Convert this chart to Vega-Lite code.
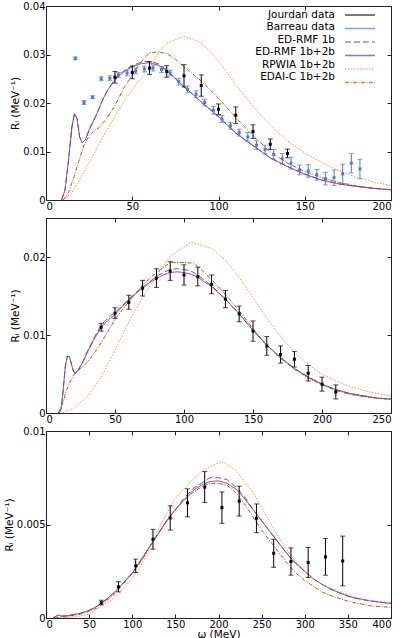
{
"$schema": "https://vega.github.io/schema/vega-lite/v6.json",
"autosize": {"type": "pad"},
"padding": {"left": 3, "top": 0, "right": 4, "bottom": 0},
"spacing": 18,
"bounds": "flush",
"config": {
  "font": "DejaVu Sans",
  "view": {"stroke": "#222", "strokeWidth": 1},
  "axis": {"domain": false, "grid": false, "tickColor": "#222", "tickSize": -4, "labelColor": "#000", "labelFontSize": 10, "labelFont": "DejaVu Sans", "titleFont": "DejaVu Sans", "titleFontSize": 10.5, "titleFontWeight": "normal", "titleColor": "#000"},
  "axisX": {"labelPadding": 5, "titlePadding": 0},
  "axisY": {"labelPadding": 5, "titlePadding": 2},
  "legend": {"labelFont": "DejaVu Sans", "labelFontSize": 10.5, "labelColor": "#000", "symbolSize": 100, "symbolStrokeWidth": 1.5, "rowPadding": 1.5, "padding": 0}
},
"datasets": {
"c1": [
{"s":"ED-RMF 1b","x":9,"y":0},{"s":"ED-RMF 1b","x":11,"y":0.002},{"s":"ED-RMF 1b","x":13,"y":0.008},{"s":"ED-RMF 1b","x":15,"y":0.015},{"s":"ED-RMF 1b","x":16.5,"y":0.0178},{"s":"ED-RMF 1b","x":18,"y":0.0168},{"s":"ED-RMF 1b","x":19.5,"y":0.013},{"s":"ED-RMF 1b","x":21,"y":0.0118},{"s":"ED-RMF 1b","x":23,"y":0.0125},{"s":"ED-RMF 1b","x":25,"y":0.0145},{"s":"ED-RMF 1b","x":27,"y":0.0159},{"s":"ED-RMF 1b","x":30,"y":0.0182},{"s":"ED-RMF 1b","x":32,"y":0.02},{"s":"ED-RMF 1b","x":35,"y":0.0222},{"s":"ED-RMF 1b","x":38,"y":0.0238},{"s":"ED-RMF 1b","x":40,"y":0.0249},{"s":"ED-RMF 1b","x":45,"y":0.0266},{"s":"ED-RMF 1b","x":50,"y":0.0277},{"s":"ED-RMF 1b","x":55,"y":0.0284},{"s":"ED-RMF 1b","x":60,"y":0.0286},{"s":"ED-RMF 1b","x":65,"y":0.0281},{"s":"ED-RMF 1b","x":70,"y":0.0268},{"s":"ED-RMF 1b","x":75,"y":0.0251},{"s":"ED-RMF 1b","x":80,"y":0.0234},{"s":"ED-RMF 1b","x":85,"y":0.0218},{"s":"ED-RMF 1b","x":90,"y":0.0202},{"s":"ED-RMF 1b","x":95,"y":0.0187},{"s":"ED-RMF 1b","x":100,"y":0.0172},{"s":"ED-RMF 1b","x":110,"y":0.0138},{"s":"ED-RMF 1b","x":120,"y":0.0112},{"s":"ED-RMF 1b","x":130,"y":0.0087},{"s":"ED-RMF 1b","x":140,"y":0.0069},{"s":"ED-RMF 1b","x":150,"y":0.0053},{"s":"ED-RMF 1b","x":160,"y":0.0041},{"s":"ED-RMF 1b","x":170,"y":0.0033},{"s":"ED-RMF 1b","x":180,"y":0.0028},{"s":"ED-RMF 1b","x":190,"y":0.0024},{"s":"ED-RMF 1b","x":200,"y":0.0021},
{"s":"ED-RMF 1b+2b","x":9,"y":0},{"s":"ED-RMF 1b+2b","x":11,"y":0.002},{"s":"ED-RMF 1b+2b","x":13,"y":0.008},{"s":"ED-RMF 1b+2b","x":15,"y":0.015},{"s":"ED-RMF 1b+2b","x":16.5,"y":0.0178},{"s":"ED-RMF 1b+2b","x":18,"y":0.0168},{"s":"ED-RMF 1b+2b","x":19.5,"y":0.013},{"s":"ED-RMF 1b+2b","x":21,"y":0.0118},{"s":"ED-RMF 1b+2b","x":23,"y":0.0125},{"s":"ED-RMF 1b+2b","x":25,"y":0.0145},{"s":"ED-RMF 1b+2b","x":27,"y":0.0159},{"s":"ED-RMF 1b+2b","x":30,"y":0.0182},{"s":"ED-RMF 1b+2b","x":32,"y":0.02},{"s":"ED-RMF 1b+2b","x":35,"y":0.0222},{"s":"ED-RMF 1b+2b","x":38,"y":0.0238},{"s":"ED-RMF 1b+2b","x":40,"y":0.0248},{"s":"ED-RMF 1b+2b","x":45,"y":0.0264},{"s":"ED-RMF 1b+2b","x":50,"y":0.0275},{"s":"ED-RMF 1b+2b","x":55,"y":0.0281},{"s":"ED-RMF 1b+2b","x":60,"y":0.0283},{"s":"ED-RMF 1b+2b","x":65,"y":0.0278},{"s":"ED-RMF 1b+2b","x":70,"y":0.0267},{"s":"ED-RMF 1b+2b","x":75,"y":0.025},{"s":"ED-RMF 1b+2b","x":80,"y":0.0233},{"s":"ED-RMF 1b+2b","x":85,"y":0.0218},{"s":"ED-RMF 1b+2b","x":90,"y":0.0202},{"s":"ED-RMF 1b+2b","x":95,"y":0.0187},{"s":"ED-RMF 1b+2b","x":100,"y":0.0172},{"s":"ED-RMF 1b+2b","x":110,"y":0.0138},{"s":"ED-RMF 1b+2b","x":120,"y":0.0112},{"s":"ED-RMF 1b+2b","x":130,"y":0.0087},{"s":"ED-RMF 1b+2b","x":140,"y":0.0069},{"s":"ED-RMF 1b+2b","x":150,"y":0.0053},{"s":"ED-RMF 1b+2b","x":160,"y":0.0041},{"s":"ED-RMF 1b+2b","x":170,"y":0.0033},{"s":"ED-RMF 1b+2b","x":180,"y":0.0028},{"s":"ED-RMF 1b+2b","x":190,"y":0.0024},{"s":"ED-RMF 1b+2b","x":200,"y":0.0021},
{"s":"RPWIA 1b+2b","x":10,"y":0},{"s":"RPWIA 1b+2b","x":15,"y":0.0015},{"s":"RPWIA 1b+2b","x":20,"y":0.0045},{"s":"RPWIA 1b+2b","x":25,"y":0.0077},{"s":"RPWIA 1b+2b","x":30,"y":0.011},{"s":"RPWIA 1b+2b","x":35,"y":0.0143},{"s":"RPWIA 1b+2b","x":40,"y":0.0173},{"s":"RPWIA 1b+2b","x":45,"y":0.0202},{"s":"RPWIA 1b+2b","x":50,"y":0.0228},{"s":"RPWIA 1b+2b","x":55,"y":0.025},{"s":"RPWIA 1b+2b","x":60,"y":0.0272},{"s":"RPWIA 1b+2b","x":65,"y":0.0303},{"s":"RPWIA 1b+2b","x":70,"y":0.0323},{"s":"RPWIA 1b+2b","x":75,"y":0.0331},{"s":"RPWIA 1b+2b","x":80,"y":0.0337},{"s":"RPWIA 1b+2b","x":85,"y":0.0332},{"s":"RPWIA 1b+2b","x":90,"y":0.0323},{"s":"RPWIA 1b+2b","x":95,"y":0.0307},{"s":"RPWIA 1b+2b","x":100,"y":0.0287},{"s":"RPWIA 1b+2b","x":105,"y":0.0262},{"s":"RPWIA 1b+2b","x":110,"y":0.0238},{"s":"RPWIA 1b+2b","x":115,"y":0.0215},{"s":"RPWIA 1b+2b","x":120,"y":0.0193},{"s":"RPWIA 1b+2b","x":130,"y":0.0155},{"s":"RPWIA 1b+2b","x":140,"y":0.0122},{"s":"RPWIA 1b+2b","x":150,"y":0.0097},{"s":"RPWIA 1b+2b","x":160,"y":0.0077},{"s":"RPWIA 1b+2b","x":170,"y":0.006},{"s":"RPWIA 1b+2b","x":180,"y":0.0047},{"s":"RPWIA 1b+2b","x":190,"y":0.0037},{"s":"RPWIA 1b+2b","x":200,"y":0.003},
{"s":"EDAI-C 1b+2b","x":10,"y":0},{"s":"EDAI-C 1b+2b","x":13,"y":0.0015},{"s":"EDAI-C 1b+2b","x":16,"y":0.0045},{"s":"EDAI-C 1b+2b","x":19,"y":0.008},{"s":"EDAI-C 1b+2b","x":22,"y":0.0113},{"s":"EDAI-C 1b+2b","x":25,"y":0.0132},{"s":"EDAI-C 1b+2b","x":28,"y":0.0143},{"s":"EDAI-C 1b+2b","x":31,"y":0.015},{"s":"EDAI-C 1b+2b","x":35,"y":0.0167},{"s":"EDAI-C 1b+2b","x":40,"y":0.0195},{"s":"EDAI-C 1b+2b","x":45,"y":0.023},{"s":"EDAI-C 1b+2b","x":50,"y":0.0258},{"s":"EDAI-C 1b+2b","x":55,"y":0.0284},{"s":"EDAI-C 1b+2b","x":60,"y":0.0304},{"s":"EDAI-C 1b+2b","x":65,"y":0.0305},{"s":"EDAI-C 1b+2b","x":70,"y":0.0302},{"s":"EDAI-C 1b+2b","x":75,"y":0.029},{"s":"EDAI-C 1b+2b","x":80,"y":0.0275},{"s":"EDAI-C 1b+2b","x":90,"y":0.0245},{"s":"EDAI-C 1b+2b","x":100,"y":0.021},{"s":"EDAI-C 1b+2b","x":110,"y":0.017},{"s":"EDAI-C 1b+2b","x":120,"y":0.0133},{"s":"EDAI-C 1b+2b","x":130,"y":0.0099},{"s":"EDAI-C 1b+2b","x":140,"y":0.0076},{"s":"EDAI-C 1b+2b","x":150,"y":0.0059},{"s":"EDAI-C 1b+2b","x":160,"y":0.0046},{"s":"EDAI-C 1b+2b","x":170,"y":0.0036},{"s":"EDAI-C 1b+2b","x":180,"y":0.0029},{"s":"EDAI-C 1b+2b","x":190,"y":0.0024},{"s":"EDAI-C 1b+2b","x":200,"y":0.0021}
],
"d1": [
{"s":"Jourdan data","x":40,"y":0.0253,"lo":0.0241,"hi":0.0265},{"s":"Jourdan data","x":50,"y":0.0263,"lo":0.025,"hi":0.0276},{"s":"Jourdan data","x":60,"y":0.0272,"lo":0.0259,"hi":0.0285},{"s":"Jourdan data","x":70,"y":0.0265,"lo":0.0253,"hi":0.0277},{"s":"Jourdan data","x":80,"y":0.0256,"lo":0.0233,"hi":0.0279},{"s":"Jourdan data","x":90,"y":0.0236,"lo":0.0214,"hi":0.0258},{"s":"Jourdan data","x":100,"y":0.0187,"lo":0.0176,"hi":0.0198},{"s":"Jourdan data","x":110,"y":0.0175,"lo":0.0158,"hi":0.0192},{"s":"Jourdan data","x":120,"y":0.0141,"lo":0.0127,"hi":0.0155},{"s":"Jourdan data","x":130,"y":0.0115,"lo":0.0104,"hi":0.0126},{"s":"Jourdan data","x":140,"y":0.0096,"lo":0.0087,"hi":0.0105},
{"s":"Barreau data","x":17,"y":0.0292,"lo":0.0289,"hi":0.0295},{"s":"Barreau data","x":22,"y":0.0201,"lo":0.0197,"hi":0.0205},{"s":"Barreau data","x":27,"y":0.0212,"lo":0.0209,"hi":0.0215},{"s":"Barreau data","x":32,"y":0.025,"lo":0.0246,"hi":0.0254},{"s":"Barreau data","x":37,"y":0.0251,"lo":0.0246,"hi":0.0256},{"s":"Barreau data","x":42,"y":0.0258,"lo":0.0253,"hi":0.0263},{"s":"Barreau data","x":47,"y":0.0262,"lo":0.0256,"hi":0.0268},{"s":"Barreau data","x":52,"y":0.0266,"lo":0.026,"hi":0.0272},{"s":"Barreau data","x":57,"y":0.027,"lo":0.0264,"hi":0.0276},{"s":"Barreau data","x":62,"y":0.0272,"lo":0.0266,"hi":0.0278},{"s":"Barreau data","x":67,"y":0.0269,"lo":0.0263,"hi":0.0275},{"s":"Barreau data","x":72,"y":0.0262,"lo":0.0256,"hi":0.0268},{"s":"Barreau data","x":77,"y":0.0244,"lo":0.0237,"hi":0.0251},{"s":"Barreau data","x":82,"y":0.0228,"lo":0.0221,"hi":0.0235},{"s":"Barreau data","x":87,"y":0.0218,"lo":0.0211,"hi":0.0225},{"s":"Barreau data","x":92,"y":0.0201,"lo":0.0194,"hi":0.0208},{"s":"Barreau data","x":97,"y":0.0185,"lo":0.0177,"hi":0.0193},{"s":"Barreau data","x":102,"y":0.0167,"lo":0.016,"hi":0.0174},{"s":"Barreau data","x":107,"y":0.0153,"lo":0.0146,"hi":0.016},{"s":"Barreau data","x":112,"y":0.0139,"lo":0.0132,"hi":0.0146},{"s":"Barreau data","x":117,"y":0.013,"lo":0.0121,"hi":0.0139},{"s":"Barreau data","x":122,"y":0.0113,"lo":0.0104,"hi":0.0122},{"s":"Barreau data","x":127,"y":0.0104,"lo":0.0095,"hi":0.0113},{"s":"Barreau data","x":132,"y":0.0094,"lo":0.0084,"hi":0.0104},{"s":"Barreau data","x":137,"y":0.0085,"lo":0.0074,"hi":0.0096},{"s":"Barreau data","x":142,"y":0.0076,"lo":0.0064,"hi":0.0088},{"s":"Barreau data","x":147,"y":0.0062,"lo":0.0052,"hi":0.0072},{"s":"Barreau data","x":152,"y":0.006,"lo":0.0047,"hi":0.0073},{"s":"Barreau data","x":157,"y":0.0052,"lo":0.0041,"hi":0.0063},{"s":"Barreau data","x":162,"y":0.0044,"lo":0.0031,"hi":0.0057},{"s":"Barreau data","x":167,"y":0.0046,"lo":0.003,"hi":0.0062},{"s":"Barreau data","x":172,"y":0.0054,"lo":0.0034,"hi":0.0074},{"s":"Barreau data","x":177,"y":0.0076,"lo":0.0056,"hi":0.0096},{"s":"Barreau data","x":182,"y":0.0064,"lo":0.0044,"hi":0.0084}
],
"c2": [
{"s":"ED-RMF 1b","x":9.5,"y":0},{"s":"ED-RMF 1b","x":11,"y":0.0006},{"s":"ED-RMF 1b","x":12.5,"y":0.003},{"s":"ED-RMF 1b","x":14,"y":0.006},{"s":"ED-RMF 1b","x":15.5,"y":0.0073},{"s":"ED-RMF 1b","x":17,"y":0.0072},{"s":"ED-RMF 1b","x":18.5,"y":0.0062},{"s":"ED-RMF 1b","x":20,"y":0.0053},{"s":"ED-RMF 1b","x":21.5,"y":0.0051},{"s":"ED-RMF 1b","x":24,"y":0.0057},{"s":"ED-RMF 1b","x":27,"y":0.0067},{"s":"ED-RMF 1b","x":30,"y":0.0079},{"s":"ED-RMF 1b","x":35,"y":0.0097},{"s":"ED-RMF 1b","x":40,"y":0.0113},{"s":"ED-RMF 1b","x":45,"y":0.0122},{"s":"ED-RMF 1b","x":50,"y":0.0129},{"s":"ED-RMF 1b","x":55,"y":0.0137},{"s":"ED-RMF 1b","x":60,"y":0.0146},{"s":"ED-RMF 1b","x":65,"y":0.0154},{"s":"ED-RMF 1b","x":70,"y":0.0161},{"s":"ED-RMF 1b","x":75,"y":0.0168},{"s":"ED-RMF 1b","x":80,"y":0.0175},{"s":"ED-RMF 1b","x":85,"y":0.018},{"s":"ED-RMF 1b","x":90,"y":0.0184},{"s":"ED-RMF 1b","x":95,"y":0.0185},{"s":"ED-RMF 1b","x":100,"y":0.0184},{"s":"ED-RMF 1b","x":105,"y":0.0182},{"s":"ED-RMF 1b","x":110,"y":0.0177},{"s":"ED-RMF 1b","x":115,"y":0.017},{"s":"ED-RMF 1b","x":120,"y":0.0163},{"s":"ED-RMF 1b","x":130,"y":0.0146},{"s":"ED-RMF 1b","x":140,"y":0.0127},{"s":"ED-RMF 1b","x":150,"y":0.0106},{"s":"ED-RMF 1b","x":160,"y":0.0087},{"s":"ED-RMF 1b","x":170,"y":0.0071},{"s":"ED-RMF 1b","x":180,"y":0.0057},{"s":"ED-RMF 1b","x":190,"y":0.0046},{"s":"ED-RMF 1b","x":200,"y":0.0037},{"s":"ED-RMF 1b","x":210,"y":0.003},{"s":"ED-RMF 1b","x":220,"y":0.0025},{"s":"ED-RMF 1b","x":230,"y":0.0022},{"s":"ED-RMF 1b","x":240,"y":0.0019},{"s":"ED-RMF 1b","x":250,"y":0.0018},
{"s":"ED-RMF 1b+2b","x":9.5,"y":0},{"s":"ED-RMF 1b+2b","x":11,"y":0.0006},{"s":"ED-RMF 1b+2b","x":12.5,"y":0.003},{"s":"ED-RMF 1b+2b","x":14,"y":0.006},{"s":"ED-RMF 1b+2b","x":15.5,"y":0.0073},{"s":"ED-RMF 1b+2b","x":17,"y":0.0072},{"s":"ED-RMF 1b+2b","x":18.5,"y":0.0062},{"s":"ED-RMF 1b+2b","x":20,"y":0.0053},{"s":"ED-RMF 1b+2b","x":21.5,"y":0.0051},{"s":"ED-RMF 1b+2b","x":24,"y":0.0057},{"s":"ED-RMF 1b+2b","x":27,"y":0.0066},{"s":"ED-RMF 1b+2b","x":30,"y":0.0078},{"s":"ED-RMF 1b+2b","x":35,"y":0.0095},{"s":"ED-RMF 1b+2b","x":40,"y":0.011},{"s":"ED-RMF 1b+2b","x":45,"y":0.0119},{"s":"ED-RMF 1b+2b","x":50,"y":0.0126},{"s":"ED-RMF 1b+2b","x":55,"y":0.0136},{"s":"ED-RMF 1b+2b","x":60,"y":0.0145},{"s":"ED-RMF 1b+2b","x":65,"y":0.0153},{"s":"ED-RMF 1b+2b","x":70,"y":0.016},{"s":"ED-RMF 1b+2b","x":75,"y":0.0167},{"s":"ED-RMF 1b+2b","x":80,"y":0.0172},{"s":"ED-RMF 1b+2b","x":85,"y":0.0177},{"s":"ED-RMF 1b+2b","x":90,"y":0.018},{"s":"ED-RMF 1b+2b","x":95,"y":0.0181},{"s":"ED-RMF 1b+2b","x":100,"y":0.018},{"s":"ED-RMF 1b+2b","x":105,"y":0.0178},{"s":"ED-RMF 1b+2b","x":110,"y":0.0174},{"s":"ED-RMF 1b+2b","x":115,"y":0.0168},{"s":"ED-RMF 1b+2b","x":120,"y":0.0162},{"s":"ED-RMF 1b+2b","x":130,"y":0.0146},{"s":"ED-RMF 1b+2b","x":140,"y":0.0127},{"s":"ED-RMF 1b+2b","x":150,"y":0.0106},{"s":"ED-RMF 1b+2b","x":160,"y":0.0087},{"s":"ED-RMF 1b+2b","x":170,"y":0.0071},{"s":"ED-RMF 1b+2b","x":180,"y":0.0057},{"s":"ED-RMF 1b+2b","x":190,"y":0.0046},{"s":"ED-RMF 1b+2b","x":200,"y":0.0037},{"s":"ED-RMF 1b+2b","x":210,"y":0.003},{"s":"ED-RMF 1b+2b","x":220,"y":0.0025},{"s":"ED-RMF 1b+2b","x":230,"y":0.0022},{"s":"ED-RMF 1b+2b","x":240,"y":0.0019},{"s":"ED-RMF 1b+2b","x":250,"y":0.0018},
{"s":"RPWIA 1b+2b","x":12,"y":0},{"s":"RPWIA 1b+2b","x":20,"y":0.0006},{"s":"RPWIA 1b+2b","x":30,"y":0.0021},{"s":"RPWIA 1b+2b","x":40,"y":0.0046},{"s":"RPWIA 1b+2b","x":50,"y":0.0081},{"s":"RPWIA 1b+2b","x":60,"y":0.0117},{"s":"RPWIA 1b+2b","x":70,"y":0.0148},{"s":"RPWIA 1b+2b","x":80,"y":0.0176},{"s":"RPWIA 1b+2b","x":90,"y":0.0201},{"s":"RPWIA 1b+2b","x":105,"y":0.0219},{"s":"RPWIA 1b+2b","x":120,"y":0.0211},{"s":"RPWIA 1b+2b","x":130,"y":0.0196},{"s":"RPWIA 1b+2b","x":140,"y":0.0174},{"s":"RPWIA 1b+2b","x":150,"y":0.0148},{"s":"RPWIA 1b+2b","x":160,"y":0.0122},{"s":"RPWIA 1b+2b","x":170,"y":0.0098},{"s":"RPWIA 1b+2b","x":180,"y":0.0078},{"s":"RPWIA 1b+2b","x":190,"y":0.0062},{"s":"RPWIA 1b+2b","x":200,"y":0.005},{"s":"RPWIA 1b+2b","x":210,"y":0.0041},{"s":"RPWIA 1b+2b","x":220,"y":0.0034},{"s":"RPWIA 1b+2b","x":230,"y":0.0029},{"s":"RPWIA 1b+2b","x":240,"y":0.0025},{"s":"RPWIA 1b+2b","x":250,"y":0.0022},
{"s":"EDAI-C 1b+2b","x":9,"y":0},{"s":"EDAI-C 1b+2b","x":12,"y":0.0012},{"s":"EDAI-C 1b+2b","x":15,"y":0.003},{"s":"EDAI-C 1b+2b","x":18,"y":0.0042},{"s":"EDAI-C 1b+2b","x":21,"y":0.0051},{"s":"EDAI-C 1b+2b","x":25,"y":0.0057},{"s":"EDAI-C 1b+2b","x":30,"y":0.0065},{"s":"EDAI-C 1b+2b","x":35,"y":0.0077},{"s":"EDAI-C 1b+2b","x":40,"y":0.009},{"s":"EDAI-C 1b+2b","x":50,"y":0.012},{"s":"EDAI-C 1b+2b","x":60,"y":0.0143},{"s":"EDAI-C 1b+2b","x":70,"y":0.0164},{"s":"EDAI-C 1b+2b","x":80,"y":0.018},{"s":"EDAI-C 1b+2b","x":90,"y":0.0193},{"s":"EDAI-C 1b+2b","x":100,"y":0.0193},{"s":"EDAI-C 1b+2b","x":107,"y":0.0192},{"s":"EDAI-C 1b+2b","x":110,"y":0.0188},{"s":"EDAI-C 1b+2b","x":120,"y":0.0171},{"s":"EDAI-C 1b+2b","x":130,"y":0.0152},{"s":"EDAI-C 1b+2b","x":140,"y":0.0131},{"s":"EDAI-C 1b+2b","x":150,"y":0.0108},{"s":"EDAI-C 1b+2b","x":160,"y":0.0087},{"s":"EDAI-C 1b+2b","x":170,"y":0.007},{"s":"EDAI-C 1b+2b","x":180,"y":0.0056},{"s":"EDAI-C 1b+2b","x":190,"y":0.0045},{"s":"EDAI-C 1b+2b","x":200,"y":0.0036},{"s":"EDAI-C 1b+2b","x":210,"y":0.0029},{"s":"EDAI-C 1b+2b","x":220,"y":0.0024},{"s":"EDAI-C 1b+2b","x":230,"y":0.0021},{"s":"EDAI-C 1b+2b","x":240,"y":0.0019},{"s":"EDAI-C 1b+2b","x":250,"y":0.0017}
],
"d2": [
{"s":"Jourdan data","x":40,"y":0.011,"lo":0.0105,"hi":0.0115},{"s":"Jourdan data","x":50,"y":0.0128,"lo":0.0121,"hi":0.0135},{"s":"Jourdan data","x":60,"y":0.0142,"lo":0.0133,"hi":0.0151},{"s":"Jourdan data","x":70,"y":0.016,"lo":0.015,"hi":0.017},{"s":"Jourdan data","x":80,"y":0.0173,"lo":0.0161,"hi":0.0185},{"s":"Jourdan data","x":90,"y":0.0182,"lo":0.017,"hi":0.0194},{"s":"Jourdan data","x":100,"y":0.0177,"lo":0.0164,"hi":0.019},{"s":"Jourdan data","x":110,"y":0.0175,"lo":0.0163,"hi":0.0187},{"s":"Jourdan data","x":120,"y":0.0165,"lo":0.0153,"hi":0.0177},{"s":"Jourdan data","x":130,"y":0.0146,"lo":0.0135,"hi":0.0157},{"s":"Jourdan data","x":140,"y":0.0127,"lo":0.0117,"hi":0.0137},{"s":"Jourdan data","x":150,"y":0.0105,"lo":0.0092,"hi":0.0118},{"s":"Jourdan data","x":160,"y":0.0086,"lo":0.0074,"hi":0.0098},{"s":"Jourdan data","x":170,"y":0.0075,"lo":0.0064,"hi":0.0086},{"s":"Jourdan data","x":180,"y":0.0069,"lo":0.0059,"hi":0.0079},{"s":"Jourdan data","x":190,"y":0.0051,"lo":0.0041,"hi":0.0061},{"s":"Jourdan data","x":200,"y":0.0037,"lo":0.0028,"hi":0.0046},{"s":"Jourdan data","x":210,"y":0.0027,"lo":0.0018,"hi":0.0036}
],
"c3": [
{"s":"ED-RMF 1b","x":8,"y":0},{"s":"ED-RMF 1b","x":12,"y":0.0001},{"s":"ED-RMF 1b","x":15,"y":0.00016},{"s":"ED-RMF 1b","x":18,"y":0.0001},{"s":"ED-RMF 1b","x":25,"y":0.00012},{"s":"ED-RMF 1b","x":40,"y":0.00025},{"s":"ED-RMF 1b","x":50,"y":0.0004},{"s":"ED-RMF 1b","x":60,"y":0.00065},{"s":"ED-RMF 1b","x":70,"y":0.001},{"s":"ED-RMF 1b","x":80,"y":0.0014},{"s":"ED-RMF 1b","x":90,"y":0.0019},{"s":"ED-RMF 1b","x":100,"y":0.0024},{"s":"ED-RMF 1b","x":110,"y":0.0031},{"s":"ED-RMF 1b","x":120,"y":0.0038},{"s":"ED-RMF 1b","x":130,"y":0.0045},{"s":"ED-RMF 1b","x":140,"y":0.0052},{"s":"ED-RMF 1b","x":150,"y":0.0058},{"s":"ED-RMF 1b","x":160,"y":0.0064},{"s":"ED-RMF 1b","x":170,"y":0.0069},{"s":"ED-RMF 1b","x":180,"y":0.0072},{"s":"ED-RMF 1b","x":190,"y":0.0075},{"s":"ED-RMF 1b","x":200,"y":0.0075},{"s":"ED-RMF 1b","x":210,"y":0.0074},{"s":"ED-RMF 1b","x":220,"y":0.007},{"s":"ED-RMF 1b","x":230,"y":0.0065},{"s":"ED-RMF 1b","x":240,"y":0.0058},{"s":"ED-RMF 1b","x":250,"y":0.0052},{"s":"ED-RMF 1b","x":260,"y":0.0046},{"s":"ED-RMF 1b","x":270,"y":0.004},{"s":"ED-RMF 1b","x":280,"y":0.0034},{"s":"ED-RMF 1b","x":290,"y":0.0029},{"s":"ED-RMF 1b","x":300,"y":0.0025},{"s":"ED-RMF 1b","x":310,"y":0.0021},{"s":"ED-RMF 1b","x":320,"y":0.0018},{"s":"ED-RMF 1b","x":330,"y":0.00155},{"s":"ED-RMF 1b","x":340,"y":0.00135},{"s":"ED-RMF 1b","x":350,"y":0.00117},{"s":"ED-RMF 1b","x":360,"y":0.00105},{"s":"ED-RMF 1b","x":375,"y":0.00092},{"s":"ED-RMF 1b","x":390,"y":0.00083},{"s":"ED-RMF 1b","x":400,"y":0.00078},
{"s":"ED-RMF 1b+2b","x":8,"y":0},{"s":"ED-RMF 1b+2b","x":12,"y":0.0001},{"s":"ED-RMF 1b+2b","x":15,"y":0.00016},{"s":"ED-RMF 1b+2b","x":18,"y":0.0001},{"s":"ED-RMF 1b+2b","x":25,"y":0.00012},{"s":"ED-RMF 1b+2b","x":40,"y":0.00025},{"s":"ED-RMF 1b+2b","x":50,"y":0.0004},{"s":"ED-RMF 1b+2b","x":60,"y":0.00065},{"s":"ED-RMF 1b+2b","x":70,"y":0.001},{"s":"ED-RMF 1b+2b","x":80,"y":0.0014},{"s":"ED-RMF 1b+2b","x":90,"y":0.0019},{"s":"ED-RMF 1b+2b","x":100,"y":0.0024},{"s":"ED-RMF 1b+2b","x":110,"y":0.0031},{"s":"ED-RMF 1b+2b","x":120,"y":0.0038},{"s":"ED-RMF 1b+2b","x":130,"y":0.0045},{"s":"ED-RMF 1b+2b","x":140,"y":0.0052},{"s":"ED-RMF 1b+2b","x":150,"y":0.0058},{"s":"ED-RMF 1b+2b","x":160,"y":0.0063},{"s":"ED-RMF 1b+2b","x":170,"y":0.0068},{"s":"ED-RMF 1b+2b","x":180,"y":0.0071},{"s":"ED-RMF 1b+2b","x":190,"y":0.0073},{"s":"ED-RMF 1b+2b","x":200,"y":0.00733},{"s":"ED-RMF 1b+2b","x":210,"y":0.0072},{"s":"ED-RMF 1b+2b","x":220,"y":0.0069},{"s":"ED-RMF 1b+2b","x":230,"y":0.0064},{"s":"ED-RMF 1b+2b","x":240,"y":0.0058},{"s":"ED-RMF 1b+2b","x":250,"y":0.0052},{"s":"ED-RMF 1b+2b","x":260,"y":0.0046},{"s":"ED-RMF 1b+2b","x":270,"y":0.004},{"s":"ED-RMF 1b+2b","x":280,"y":0.0034},{"s":"ED-RMF 1b+2b","x":290,"y":0.0029},{"s":"ED-RMF 1b+2b","x":300,"y":0.0025},{"s":"ED-RMF 1b+2b","x":310,"y":0.0021},{"s":"ED-RMF 1b+2b","x":320,"y":0.0018},{"s":"ED-RMF 1b+2b","x":330,"y":0.00155},{"s":"ED-RMF 1b+2b","x":340,"y":0.00135},{"s":"ED-RMF 1b+2b","x":350,"y":0.00117},{"s":"ED-RMF 1b+2b","x":360,"y":0.00105},{"s":"ED-RMF 1b+2b","x":375,"y":0.00092},{"s":"ED-RMF 1b+2b","x":390,"y":0.00083},{"s":"ED-RMF 1b+2b","x":400,"y":0.00078},
{"s":"RPWIA 1b+2b","x":20,"y":0},{"s":"RPWIA 1b+2b","x":40,"y":0.0001},{"s":"RPWIA 1b+2b","x":50,"y":0.0002},{"s":"RPWIA 1b+2b","x":60,"y":0.0005},{"s":"RPWIA 1b+2b","x":70,"y":0.0008},{"s":"RPWIA 1b+2b","x":80,"y":0.0011},{"s":"RPWIA 1b+2b","x":90,"y":0.0016},{"s":"RPWIA 1b+2b","x":100,"y":0.0021},{"s":"RPWIA 1b+2b","x":110,"y":0.0028},{"s":"RPWIA 1b+2b","x":120,"y":0.0037},{"s":"RPWIA 1b+2b","x":130,"y":0.0047},{"s":"RPWIA 1b+2b","x":140,"y":0.0056},{"s":"RPWIA 1b+2b","x":150,"y":0.0064},{"s":"RPWIA 1b+2b","x":160,"y":0.0069},{"s":"RPWIA 1b+2b","x":170,"y":0.0074},{"s":"RPWIA 1b+2b","x":180,"y":0.0078},{"s":"RPWIA 1b+2b","x":190,"y":0.0081},{"s":"RPWIA 1b+2b","x":200,"y":0.0083},{"s":"RPWIA 1b+2b","x":205,"y":0.00835},{"s":"RPWIA 1b+2b","x":210,"y":0.0082},{"s":"RPWIA 1b+2b","x":220,"y":0.0079},{"s":"RPWIA 1b+2b","x":230,"y":0.0073},{"s":"RPWIA 1b+2b","x":240,"y":0.0067},{"s":"RPWIA 1b+2b","x":250,"y":0.0059},{"s":"RPWIA 1b+2b","x":260,"y":0.0051},{"s":"RPWIA 1b+2b","x":270,"y":0.0043},{"s":"RPWIA 1b+2b","x":280,"y":0.0036},{"s":"RPWIA 1b+2b","x":290,"y":0.003},{"s":"RPWIA 1b+2b","x":300,"y":0.0025},{"s":"RPWIA 1b+2b","x":310,"y":0.0021},{"s":"RPWIA 1b+2b","x":320,"y":0.0018},{"s":"RPWIA 1b+2b","x":330,"y":0.0016},{"s":"RPWIA 1b+2b","x":340,"y":0.0014},{"s":"RPWIA 1b+2b","x":350,"y":0.00125},{"s":"RPWIA 1b+2b","x":360,"y":0.0011},{"s":"RPWIA 1b+2b","x":375,"y":0.00095},{"s":"RPWIA 1b+2b","x":390,"y":0.00086},{"s":"RPWIA 1b+2b","x":400,"y":0.00083},
{"s":"EDAI-C 1b+2b","x":10,"y":0},{"s":"EDAI-C 1b+2b","x":20,"y":0.00005},{"s":"EDAI-C 1b+2b","x":40,"y":0.0002},{"s":"EDAI-C 1b+2b","x":60,"y":0.00055},{"s":"EDAI-C 1b+2b","x":80,"y":0.0013},{"s":"EDAI-C 1b+2b","x":100,"y":0.0024},{"s":"EDAI-C 1b+2b","x":110,"y":0.003},{"s":"EDAI-C 1b+2b","x":120,"y":0.0038},{"s":"EDAI-C 1b+2b","x":130,"y":0.0045},{"s":"EDAI-C 1b+2b","x":140,"y":0.0052},{"s":"EDAI-C 1b+2b","x":150,"y":0.0058},{"s":"EDAI-C 1b+2b","x":160,"y":0.0063},{"s":"EDAI-C 1b+2b","x":170,"y":0.0067},{"s":"EDAI-C 1b+2b","x":180,"y":0.007},{"s":"EDAI-C 1b+2b","x":190,"y":0.0072},{"s":"EDAI-C 1b+2b","x":200,"y":0.0072},{"s":"EDAI-C 1b+2b","x":210,"y":0.0071},{"s":"EDAI-C 1b+2b","x":220,"y":0.0067},{"s":"EDAI-C 1b+2b","x":230,"y":0.0061},{"s":"EDAI-C 1b+2b","x":240,"y":0.0054},{"s":"EDAI-C 1b+2b","x":250,"y":0.0047},{"s":"EDAI-C 1b+2b","x":260,"y":0.0041},{"s":"EDAI-C 1b+2b","x":270,"y":0.0035},{"s":"EDAI-C 1b+2b","x":280,"y":0.0029},{"s":"EDAI-C 1b+2b","x":290,"y":0.0024},{"s":"EDAI-C 1b+2b","x":300,"y":0.002},{"s":"EDAI-C 1b+2b","x":310,"y":0.0017},{"s":"EDAI-C 1b+2b","x":320,"y":0.0014},{"s":"EDAI-C 1b+2b","x":330,"y":0.0012},{"s":"EDAI-C 1b+2b","x":340,"y":0.00105},{"s":"EDAI-C 1b+2b","x":350,"y":0.0009},{"s":"EDAI-C 1b+2b","x":360,"y":0.0008},{"s":"EDAI-C 1b+2b","x":375,"y":0.00066},{"s":"EDAI-C 1b+2b","x":390,"y":0.0006},{"s":"EDAI-C 1b+2b","x":400,"y":0.00057}
],
"d3": [
{"s":"Jourdan data","x":64,"y":0.00083,"lo":0.00071,"hi":0.00095},{"s":"Jourdan data","x":84,"y":0.00167,"lo":0.0014,"hi":0.00194},{"s":"Jourdan data","x":104,"y":0.00279,"lo":0.00243,"hi":0.00315},{"s":"Jourdan data","x":124,"y":0.00421,"lo":0.00368,"hi":0.00474},{"s":"Jourdan data","x":144,"y":0.00535,"lo":0.0047,"hi":0.006},{"s":"Jourdan data","x":164,"y":0.00616,"lo":0.00541,"hi":0.00691},{"s":"Jourdan data","x":184,"y":0.007,"lo":0.00617,"hi":0.00783},{"s":"Jourdan data","x":204,"y":0.0059,"lo":0.00506,"hi":0.00674},{"s":"Jourdan data","x":224,"y":0.00625,"lo":0.00545,"hi":0.00705},{"s":"Jourdan data","x":244,"y":0.00533,"lo":0.00456,"hi":0.0061},{"s":"Jourdan data","x":264,"y":0.00346,"lo":0.00271,"hi":0.00421},{"s":"Jourdan data","x":284,"y":0.00302,"lo":0.00229,"hi":0.00375},{"s":"Jourdan data","x":304,"y":0.00297,"lo":0.00217,"hi":0.00377},{"s":"Jourdan data","x":324,"y":0.00327,"lo":0.00229,"hi":0.00425},{"s":"Jourdan data","x":344,"y":0.00305,"lo":0.00172,"hi":0.00438}
]
},
"resolve": {"scale": {"color": "independent", "strokeDash": "independent", "strokeWidth": "independent"}},
"vconcat": [
{
 "width": 345, "height": 194,
 "resolve": {"axis": {"x": "independent", "y": "independent"}},
 "layer": [
  {"data": {"name": "c1"}, "mark": {"type": "line", "clip": true},
   "encoding": {
    "x": {"field": "x", "type": "quantitative", "scale": {"domain": [0, 200], "nice": false}, "axis": {"orient": "bottom", "values": [0, 50, 100, 150, 200], "title": null}},
    "y": {"field": "y", "type": "quantitative", "scale": {"domain": [0, 0.04], "nice": false}, "axis": {"orient": "left", "values": [0, 0.01, 0.02, 0.03, 0.04], "format": ".2~f", "title": "Rₗ (MeV⁻¹)"}},
    "color": {"field": "s", "type": "nominal", "scale": {"domain": ["Jourdan data", "Barreau data", "ED-RMF 1b", "ED-RMF 1b+2b", "RPWIA 1b+2b", "EDAI-C 1b+2b"], "range": ["#000000", "#4a78e0", "#8a4a9c", "#7a3a8c", "#ff8c4a", "#c0501a"]}, "legend": {"orient": "top-right", "offset": 3, "title": null, "labelOpacity": 0, "labelLimit": 1, "labelOffset": 11, "symbolType": "M-3,0H3"}},
    "strokeDash": {"field": "s", "type": "nominal", "scale": {"domain": ["Jourdan data", "Barreau data", "ED-RMF 1b", "ED-RMF 1b+2b", "RPWIA 1b+2b", "EDAI-C 1b+2b"], "range": [[1, 0], [1, 0], [6, 3], [1, 0], [1.5, 1.5], [4, 1.5, 1, 1.5]]}, "legend": {"orient": "top-right", "offset": 3, "title": null, "labelOpacity": 0, "labelLimit": 1, "labelOffset": 11, "symbolType": "M-3,0H3"}},
    "strokeWidth": {"field": "s", "type": "nominal", "scale": {"domain": ["Jourdan data", "Barreau data", "ED-RMF 1b", "ED-RMF 1b+2b", "RPWIA 1b+2b", "EDAI-C 1b+2b"], "range": [1, 1, 1.5, 2, 1, 1]}, "legend": {"orient": "none", "legendX": 198, "legendY": 3, "title": null, "symbolOpacity": 0, "symbolType": "circle", "labelAlign": "right", "labelOffset": 80}}
   }},
  {"data": {"name": "d1"}, "mark": {"type": "errorbar", "ticks": {"size": 5}, "thickness": 1},
   "encoding": {
    "x": {"field": "x", "type": "quantitative", "axis": null},
    "y": {"field": "lo", "type": "quantitative", "axis": null},
    "y2": {"field": "hi"},
    "color": {"field": "s", "type": "nominal"}
   }},
  {"data": {"name": "d1"}, "mark": {"type": "point", "shape": "square", "filled": true, "size": 9, "opacity": 1},
   "encoding": {
    "x": {"field": "x", "type": "quantitative", "axis": {"orient": "top", "values": [0, 50, 100, 150, 200], "labels": false, "title": null}},
    "y": {"field": "y", "type": "quantitative", "axis": {"orient": "right", "values": [0, 0.01, 0.02, 0.03, 0.04], "labels": false, "title": null}},
    "color": {"field": "s", "type": "nominal"}
   }}
 ]
},
{
 "width": 345, "height": 195,
 "resolve": {"axis": {"x": "independent", "y": "independent"}},
 "layer": [
  {"data": {"name": "c2"}, "mark": {"type": "line", "clip": true},
   "encoding": {
    "x": {"field": "x", "type": "quantitative", "scale": {"domain": [0, 250], "nice": false}, "axis": {"orient": "bottom", "values": [0, 50, 100, 150, 200, 250], "title": null}},
    "y": {"field": "y", "type": "quantitative", "scale": {"domain": [0, 0.025], "nice": false}, "axis": {"orient": "left", "values": [0, 0.01, 0.02], "format": ".2~f", "title": "Rₗ (MeV⁻¹)"}},
    "color": {"field": "s", "type": "nominal", "scale": {"domain": ["Jourdan data", "Barreau data", "ED-RMF 1b", "ED-RMF 1b+2b", "RPWIA 1b+2b", "EDAI-C 1b+2b"], "range": ["#000000", "#4a78e0", "#8a4a9c", "#7a3a8c", "#ff8c4a", "#c0501a"]}, "legend": null},
    "strokeDash": {"field": "s", "type": "nominal", "scale": {"domain": ["Jourdan data", "Barreau data", "ED-RMF 1b", "ED-RMF 1b+2b", "RPWIA 1b+2b", "EDAI-C 1b+2b"], "range": [[1, 0], [1, 0], [6, 3], [1, 0], [1.5, 1.5], [4, 1.5, 1, 1.5]]}, "legend": null},
    "strokeWidth": {"field": "s", "type": "nominal", "scale": {"domain": ["Jourdan data", "Barreau data", "ED-RMF 1b", "ED-RMF 1b+2b", "RPWIA 1b+2b", "EDAI-C 1b+2b"], "range": [1, 1, 1.5, 2, 1, 1]}, "legend": null}
   }},
  {"data": {"name": "d2"}, "mark": {"type": "errorbar", "ticks": {"size": 5}, "thickness": 1},
   "encoding": {
    "x": {"field": "x", "type": "quantitative", "axis": null},
    "y": {"field": "lo", "type": "quantitative", "axis": null},
    "y2": {"field": "hi"},
    "color": {"field": "s", "type": "nominal", "legend": null}
   }},
  {"data": {"name": "d2"}, "mark": {"type": "point", "shape": "square", "filled": true, "size": 9, "opacity": 1},
   "encoding": {
    "x": {"field": "x", "type": "quantitative", "axis": {"orient": "top", "values": [0, 50, 100, 150, 200, 250], "labels": false, "title": null}},
    "y": {"field": "y", "type": "quantitative", "axis": {"orient": "right", "values": [0, 0.01, 0.02], "labels": false, "title": null}},
    "color": {"field": "s", "type": "nominal", "legend": null}
   }}
 ]
},
{
 "width": 345, "height": 187,
 "resolve": {"axis": {"x": "independent", "y": "independent"}},
 "layer": [
  {"data": {"name": "c3"}, "mark": {"type": "line", "clip": true},
   "encoding": {
    "x": {"field": "x", "type": "quantitative", "scale": {"domain": [0, 400], "nice": false}, "axis": {"orient": "bottom", "values": [0, 50, 100, 150, 200, 250, 300, 350, 400], "title": "ω (MeV)"}},
    "y": {"field": "y", "type": "quantitative", "scale": {"domain": [0, 0.01], "nice": false}, "axis": {"orient": "left", "values": [0, 0.005, 0.01], "format": ".3~f", "title": "Rₗ (MeV⁻¹)"}},
    "color": {"field": "s", "type": "nominal", "scale": {"domain": ["Jourdan data", "Barreau data", "ED-RMF 1b", "ED-RMF 1b+2b", "RPWIA 1b+2b", "EDAI-C 1b+2b"], "range": ["#000000", "#4a78e0", "#8a4a9c", "#7a3a8c", "#ff8c4a", "#c0501a"]}, "legend": null},
    "strokeDash": {"field": "s", "type": "nominal", "scale": {"domain": ["Jourdan data", "Barreau data", "ED-RMF 1b", "ED-RMF 1b+2b", "RPWIA 1b+2b", "EDAI-C 1b+2b"], "range": [[1, 0], [1, 0], [6, 3], [1, 0], [1.5, 1.5], [4, 1.5, 1, 1.5]]}, "legend": null},
    "strokeWidth": {"field": "s", "type": "nominal", "scale": {"domain": ["Jourdan data", "Barreau data", "ED-RMF 1b", "ED-RMF 1b+2b", "RPWIA 1b+2b", "EDAI-C 1b+2b"], "range": [1, 1, 1.5, 2, 1, 1]}, "legend": null}
   }},
  {"data": {"name": "d3"}, "mark": {"type": "errorbar", "ticks": {"size": 5}, "thickness": 1},
   "encoding": {
    "x": {"field": "x", "type": "quantitative", "axis": null},
    "y": {"field": "lo", "type": "quantitative", "axis": null},
    "y2": {"field": "hi"},
    "color": {"field": "s", "type": "nominal", "legend": null}
   }},
  {"data": {"name": "d3"}, "mark": {"type": "point", "shape": "square", "filled": true, "size": 9, "opacity": 1},
   "encoding": {
    "x": {"field": "x", "type": "quantitative", "axis": {"orient": "top", "values": [0, 50, 100, 150, 200, 250, 300, 350, 400], "labels": false, "title": null}},
    "y": {"field": "y", "type": "quantitative", "axis": {"orient": "right", "values": [0, 0.005, 0.01], "labels": false, "title": null}},
    "color": {"field": "s", "type": "nominal", "legend": null}
   }}
 ]
}
]
}
